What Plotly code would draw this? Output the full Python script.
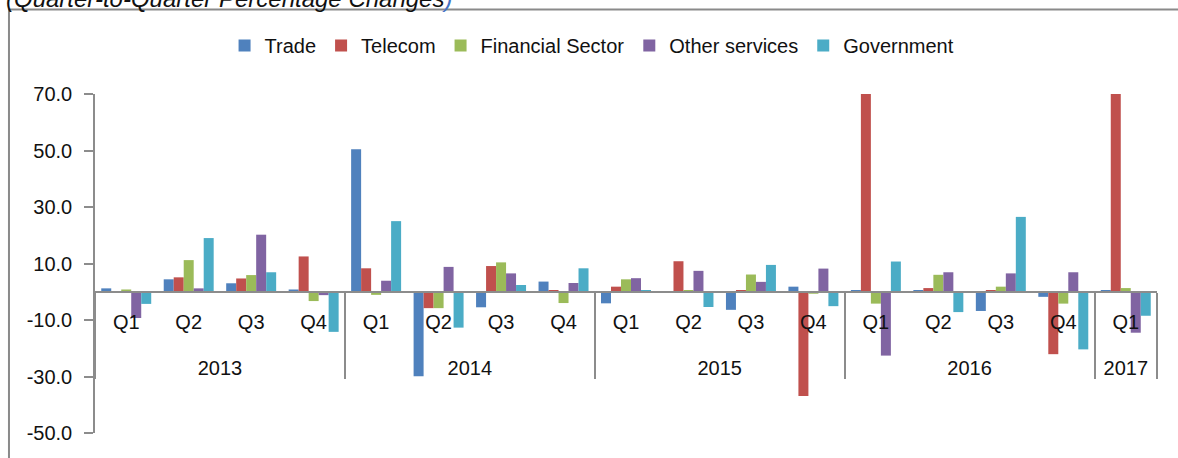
import plotly.graph_objects as go

# ---- data ----
years = ["2013"] * 4 + ["2014"] * 4 + ["2015"] * 4 + ["2016"] * 4 + ["2017"]
quarters = ["Q1", "Q2", "Q3", "Q4"] * 4 + ["Q1"]

trade = [1.2, 4.4, 3.0, 0.8, 50.4, -29.9, -5.5, 3.6, -4.1, 0.0, -6.4, 1.8, 0.5, 0.5, -6.8, -1.8, 0.5]
telecom = [0.0, 5.1, 4.7, 12.5, 8.3, -5.8, 9.1, 0.6, 1.8, 10.8, 0.6, -36.9, 70.0, 1.3, 0.5, -22.1, 70.0]
financial = [0.8, 11.2, 5.9, -3.3, -1.1, -5.8, 10.4, -4.0, 4.4, 0.6, 6.1, -0.7, -4.2, 6.0, 1.8, -4.2, 1.3]
other_services = [-9.3, 1.2, 20.2, -1.2, 3.9, 8.8, 6.5, 3.1, 4.8, 7.4, 3.5, 8.2, -22.6, 6.9, 6.5, 6.9, -14.5]
government = [-4.3, 19.0, 6.9, -14.2, 25.0, -12.7, 2.4, 8.3, 0.6, -5.4, 9.5, -5.1, 10.7, -7.2, 26.5, -20.4, -8.5]

series_names = ["Trade", "Telecom", "Financial Sector", "Other services", "Government"]
series_values = [trade, telecom, financial, other_services, government]
series_colors = ["#4F81BD", "#C0504D", "#9BBB59", "#8064A2", "#4BACC6"]

y_tick_vals = [-50, -30, -10, 10, 30, 50, 70]
y_tick_text = [f"{v:.1f}" for v in y_tick_vals]
y_min, y_max = -50, 70

FONT = "Liberation Sans, Arial, sans-serif"
AXIS_GREY = "#8c8c8c"

# outer (year) labels get a leading blank line so they sit lower, as in the original
year_labels = ["<br>" + y for y in years]

fig = go.Figure()
for name, vals, col in zip(series_names, series_values, series_colors):
    fig.add_trace(go.Bar(
        x=[year_labels, quarters], y=vals, name=name,
        marker=dict(color=col, line=dict(width=0)),
    ))

zero_pos = (0 - y_min) / (y_max - y_min)
n_cat = len(quarters)

fig.update_layout(
    width=1178, height=458,
    margin=dict(l=95, r=21, t=94, b=25, autoexpand=False),
    paper_bgcolor="white", plot_bgcolor="white",
    font=dict(family=FONT, size=20, color="#111111"),
    barmode="group", bargap=0.2, bargroupgap=0,
    showlegend=True,
    legend=dict(orientation="h", x=0.122, xanchor="left", y=1.143, yanchor="middle",
                font=dict(size=20), itemwidth=30, traceorder="normal",
                bgcolor="rgba(0,0,0,0)"),
    xaxis=dict(
        type="multicategory", anchor="free", position=zero_pos,
        showline=True, linecolor=AXIS_GREY, linewidth=1.5,
        ticks="outside", tickson="labels", ticklen=8, tickcolor="rgba(0,0,0,0)",
        showgrid=False, zeroline=False,
        showdividers=True, dividercolor=AXIS_GREY, dividerwidth=1.5,
        tickfont=dict(size=20, color="#111111"), ticklabelstandoff=4,
    ),
    xaxis2=dict(
        overlaying="x", anchor="free", position=zero_pos,
        range=[-0.5, n_cat - 0.5],
        tickmode="array", tickvals=[i + 0.5 for i in range(n_cat - 1)],
        ticks="outside", ticklen=46, tickcolor=AXIS_GREY, tickwidth=1.5,
        showticklabels=False, showline=False, showgrid=False, zeroline=False,
    ),
    yaxis=dict(
        range=[y_min, y_max], tickmode="array", tickvals=y_tick_vals, ticktext=y_tick_text,
        ticks="outside", ticklen=9, tickcolor=AXIS_GREY, tickwidth=1.5,
        showline=True, linecolor=AXIS_GREY, linewidth=1.5,
        showgrid=False, zeroline=False, ticklabelstandoff=8,
        tickfont=dict(size=20, color="#111111"),
    ),
    shapes=[dict(type="rect", xref="paper", yref="paper",
                 x0=-0.081, x1=1.1, y0=-0.2, y1=1.249,
                 line=dict(color="#8a8a8a", width=2), fillcolor="rgba(0,0,0,0)", layer="below")],
    annotations=[dict(
        text="<i>(Quarter-to-Quarter Percentage Changes<span style='color:#4472C4'>)</span></i>",
        xref="paper", yref="paper", x=-0.086, y=1.282, xanchor="left", yanchor="middle",
        showarrow=False, font=dict(size=24, color="#111111"),
    )],
)

fig.write_html("out.html", config={"displayModeBar": False},
               post_script="document.body.style.margin='0';")
